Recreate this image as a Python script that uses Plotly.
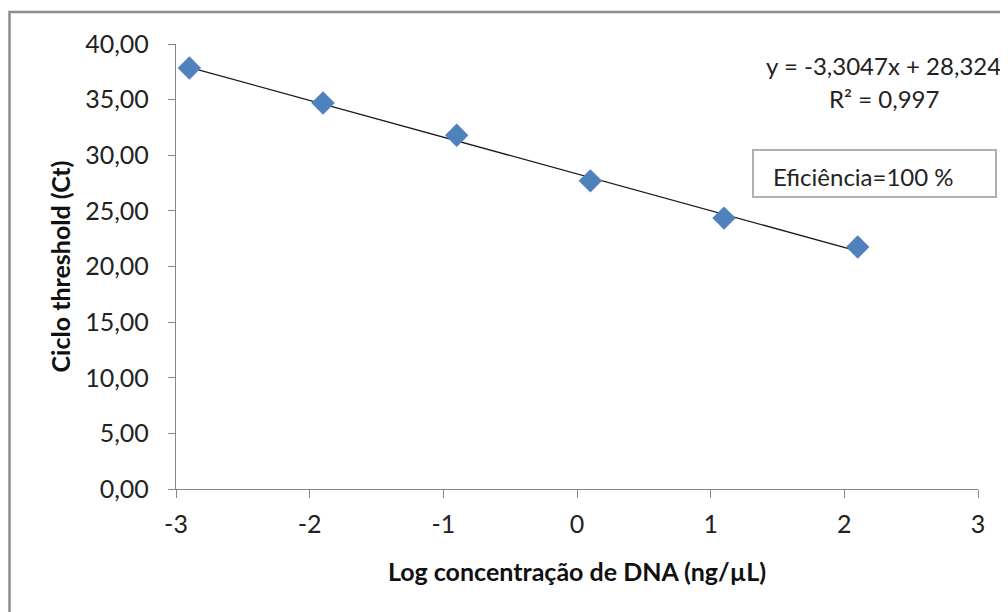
import plotly.graph_objects as go

# Data
log_conc = [-2.9, -1.9, -0.9, 0.1, 1.1, 2.1]
ct_values = [37.84, 34.70, 31.80, 27.70, 24.35, 21.75]
slope = -3.3047
intercept = 28.324
r2 = 0.997
efficiency = 100
x_tick_vals = [-3, -2, -1, 0, 1, 2, 3]
x_tick_text = ["-3", "-2", "-1", "0", "1", "2", "3"]
y_tick_vals = [0, 5, 10, 15, 20, 25, 30, 35, 40]

FONT = "Lato"
AXIS_GRAY = "#868686"

# Page offset (body margin) compensation
OX, OY = 8, 8
PL, PR, PT, PB = 176, 978, 44, 489   # target plot-area pixel bounds
W, H = 1008, 612
pw, ph = PR - PL, PB - PT


def px(xpix):
    return (xpix - PL) / pw


def py(ypix):
    return (PB - ypix) / ph


trend_x = [min(log_conc), max(log_conc)]
trend_y = [slope * v + intercept for v in trend_x]

fig = go.Figure()
fig.add_trace(go.Scatter(x=trend_x, y=trend_y, mode="lines",
                         line=dict(color="#1a1a1a", width=1.3),
                         showlegend=False, hoverinfo="skip"))
fig.add_trace(go.Scatter(x=log_conc, y=ct_values, mode="markers",
                         marker=dict(symbol="diamond", size=18, color="#4F81BD",
                                     line=dict(width=0)),
                         showlegend=False))

fig.update_layout(
    width=W, height=H,
    margin=dict(l=PL - OX, r=W - (PR - OX), t=PT - OY, b=H - (PB - OY)),
    paper_bgcolor="white", plot_bgcolor="white",
    separators=", ",
    font=dict(family=FONT, color="#222222", size=25),
    xaxis=dict(range=[-3, 3], tickvals=x_tick_vals, ticktext=x_tick_text,
               showgrid=False, zeroline=False, showline=True, linecolor=AXIS_GRAY,
               linewidth=1.3, ticks="outside", ticklen=8, tickcolor=AXIS_GRAY,
               ticklabelstandoff=5,
               tickfont=dict(size=25, family=FONT, color="#222222"),
               title=dict(text="<b>Log concentração de DNA (ng/µL)</b>",
                          font=dict(size=25, family=FONT, color="#111111"), standoff=26)),
    yaxis=dict(range=[0, 40], tickvals=y_tick_vals, tickformat=".2f",
               showgrid=False, zeroline=False, showline=True, linecolor=AXIS_GRAY,
               linewidth=1.3, ticks="outside", ticklen=7, tickcolor=AXIS_GRAY,
               ticklabelstandoff=14,
               tickfont=dict(size=25, family=FONT, color="#222222"),
               title=dict(text="<b>Ciclo threshold (Ct)</b>",
                          font=dict(size=25, family=FONT, color="#111111"), standoff=7)),
)

# Outer chart frame
fig.add_shape(type="rect", xref="paper", yref="paper",
              x0=px(OX + 1.5), x1=px(1030), y0=py(640), y1=py(12),
              line=dict(color="#8c8c8c", width=2.5), layer="below")

eq_text = f"y = {slope:.4f}x + {intercept:.3f}".replace(".", ",")
r2_text = f"R² = {r2:.3f}".replace(".", ",")
fig.add_annotation(xref="paper", yref="paper", x=px(883), y=py(66),
                   text=eq_text, showarrow=False, xanchor="center", yanchor="middle",
                   font=dict(size=24, family=FONT, color="#222222"))
fig.add_annotation(xref="paper", yref="paper", x=px(884), y=py(99),
                   text=r2_text, showarrow=False, xanchor="center", yanchor="middle",
                   font=dict(size=24, family=FONT, color="#222222"))

# Efficiency box
fig.add_shape(type="rect", xref="paper", yref="paper",
              x0=px(753), x1=px(996), y0=py(197), y1=py(150),
              line=dict(color="#b0b0b0", width=2), fillcolor="white")
fig.add_annotation(xref="paper", yref="paper", x=px(771), y=py(176),
                   text=f"Eficiência={efficiency} %", showarrow=False,
                   xanchor="left", yanchor="middle",
                   font=dict(size=24, family=FONT, color="#222222"))

fig.write_html("out.html")
